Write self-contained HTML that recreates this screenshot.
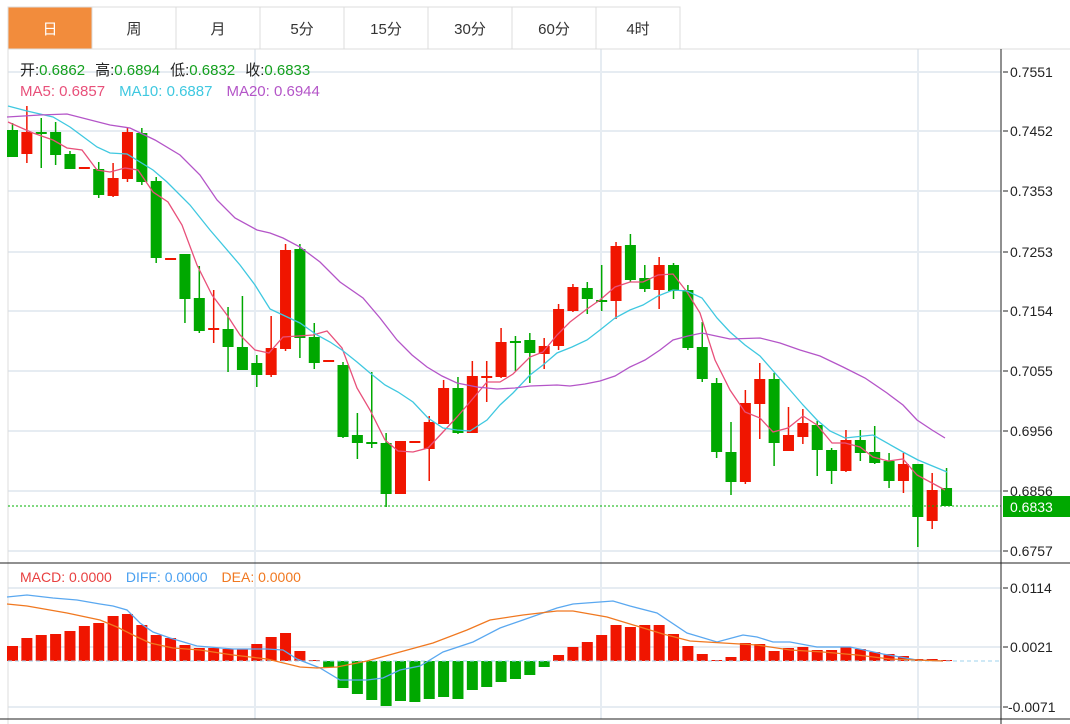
<!DOCTYPE html>
<html><head><meta charset="utf-8"><style>
body{margin:0;background:#fff;width:1070px;height:724px;overflow:hidden;font-family:"Liberation Sans","Noto Sans CJK SC",sans-serif}
svg{position:absolute;left:0;top:0}
</style></head><body>
<svg id="s" width="1070" height="724" xmlns="http://www.w3.org/2000/svg" font-family="Liberation Sans, Noto Sans CJK SC, sans-serif">
<g stroke="#e6ecf2" stroke-width="2">
<line x1="8" y1="72" x2="1001" y2="72"/><line x1="8" y1="131" x2="1001" y2="131"/><line x1="8" y1="191" x2="1001" y2="191"/><line x1="8" y1="252" x2="1001" y2="252"/><line x1="8" y1="311" x2="1001" y2="311"/><line x1="8" y1="371" x2="1001" y2="371"/><line x1="8" y1="431" x2="1001" y2="431"/><line x1="8" y1="491" x2="1001" y2="491"/><line x1="8" y1="551" x2="1001" y2="551"/>
<line x1="8" y1="588" x2="1001" y2="588"/><line x1="8" y1="647" x2="1001" y2="647"/><line x1="8" y1="707" x2="1001" y2="707"/>
<line x1="255" y1="49" x2="255" y2="719"/><line x1="601" y1="49" x2="601" y2="719"/><line x1="918" y1="49" x2="918" y2="719"/>
</g>
<line x1="8" y1="49" x2="1070" y2="49" stroke="#dcdcdc"/>
<line x1="8" y1="7" x2="8" y2="724" stroke="#dcdcdc"/>
<g id="tabs"></g>
<g id="cand"></g>
<g id="macd"></g>
<line x1="8" y1="661" x2="1001" y2="661" stroke="#9fd3ee" stroke-dasharray="4,3"/>
<g id="lines" fill="none" stroke-width="1.3"></g>
<line x1="8" y1="506" x2="1001" y2="506" stroke="#00b000" stroke-dasharray="2,2"/>
<line x1="1001" y1="49" x2="1001" y2="724" stroke="#222"/>
<line x1="0" y1="563" x2="1070" y2="563" stroke="#222"/>
<line x1="0" y1="719" x2="1070" y2="719" stroke="#222"/>
<g font-size="14" fill="#222" id="ax"></g>
<rect x="1003" y="496" width="67" height="21" fill="#00a800"/>
<text x="1010" y="512" fill="#fff" font-size="14">0.6833</text>
<text x="20" y="75" font-size="15"><tspan fill="#222">开:</tspan><tspan fill="#14a01e">0.6862</tspan><tspan fill="#222" dx="10">高:</tspan><tspan fill="#14a01e">0.6894</tspan><tspan fill="#222" dx="10">低:</tspan><tspan fill="#14a01e">0.6832</tspan><tspan fill="#222" dx="10">收:</tspan><tspan fill="#14a01e">0.6833</tspan></text>
<text x="20" y="96" font-size="15"><tspan fill="#e8507a">MA5: 0.6857</tspan><tspan fill="#3fc8e0" dx="14">MA10: 0.6887</tspan><tspan fill="#b455c8" dx="14">MA20: 0.6944</tspan></text>
<text x="20" y="582" font-size="14"><tspan fill="#e84040">MACD: 0.0000</tspan><tspan fill="#4aa0f0" dx="14">DIFF: 0.0000</tspan><tspan fill="#f07820" dx="14">DEA: 0.0000</tspan></text>
</svg>
<script>
const NS="http://www.w3.org/2000/svg";
function el(p,t,a,txt){const e=document.createElementNS(NS,t);for(const k in a)e.setAttribute(k,a[k]);if(txt)e.textContent=txt;document.getElementById(p).appendChild(e);return e;}
const tabs=["日","周","月","5分","15分","30分","60分","4时"];
tabs.forEach((t,i)=>{const x=8+i*84;
 el("tabs","rect",{x:x,y:7,width:84,height:42,fill:i==0?"#f28c3c":"#fff",stroke:"#dcdcdc"});
 el("tabs","text",{x:x+42,y:34,"text-anchor":"middle","font-size":"15",fill:i==0?"#fff":"#333"},t);});
const C=[["G",130,157,123,157],["R",132,154,106,163],["G",132,134,118,168],["G",132,155,122,165],["G",154,169,151,169],["R",167,169,167,169],["G",169,195,162,198],["R",178,196,163,197],["R",132,179,128,182],["G",133,182,128,185],["G",181,258,177,263],["R",258,260,258,260],["G",254,299,254,323],["G",298,331,266,333],["R",328,330,290,343],["G",329,347,307,372],["G",347,370,296,370],["G",363,375,355,387],["R",348,375,316,377],["R",250,349,244,351],["G",249,338,244,358],["G",337,363,323,369],["R",360,362,360,362],["G",365,437,362,438],["G",435,443,413,459],["G",442,444,372,448],["G",443,494,433,507],["R",441,494,441,494],["R",441,443,441,443],["R",422,449,416,481],["R",388,424,380,424],["G",388,433,377,434],["R",376,433,361,433],["R",376,378,361,402],["R",342,377,328,378],["G",341,343,336,371],["G",340,353,333,383],["R",346,354,338,369],["R",309,346,304,350],["R",287,311,284,312],["G",288,299,282,314],["G",300,302,265,311],["R",246,301,242,319],["G",245,280,234,282],["G",278,289,265,292],["R",265,290,257,309],["G",265,291,263,299],["G",290,348,285,350],["G",347,379,322,382],["G",383,452,378,458],["G",452,482,422,495],["R",403,482,390,484],["R",379,404,363,439],["G",379,443,373,466],["R",435,451,407,444],["R",423,437,409,444],["G",425,450,421,476],["G",450,471,448,484],["R",440,471,430,472],["G",440,453,430,461],["G",452,463,426,464],["G",461,481,453,488],["R",464,481,453,493],["G",464,517,464,547],["R",490,521,473,529],["G",488,506,468,506]];
const X=i=>12.5+i*14.37;
C.forEach((c,i)=>{const x=X(i),col=c[0]=="R"?"#f01500":"#00a800";
 el("cand","line",{x1:x,x2:x,y1:c[3],y2:c[4],stroke:col,"stroke-width":1.5});
 el("cand","rect",{x:x-5.5,y:c[1],width:11,height:Math.max(2,c[2]-c[1]),fill:col});});
const M=[646,638,635,634,631,626,623,616,614,625,635,638,645,648,648,649,649,644,637,633,651,660,667,688,694,700,706,701,702,699,697,699,690,687,682,679,675,667,655,647,642,635,625,627,625,625,634,646,654,660,657,643,644,651,648,647,650,650,647,649,652,654,656,659,659,660];
M.forEach((v,i)=>{const x=X(i);const top=Math.min(v,661),h=Math.max(1,Math.abs(v-661));
 el("macd","rect",{x:x-5.5,y:top,width:11,height:h,fill:v<661?"#f01500":"#00a800"});});
function pl(pts,col){el("lines","polyline",{points:pts.map(p=>p.join(",")).join(" "),stroke:col});}
pl([[8,122],[33,133],[53,140],[67,148],[82,150],[97,170],[110,172],[125,168],[138,170],[153,192],[168,202],[182,225],[197,265],[212,295],[227,315],[240,335],[255,350],[269,353],[283,337],[313,335],[327,331],[342,348],[357,388],[370,410],[385,440],[398,451],[413,452],[428,448],[443,432],[457,417],[470,402],[487,382],[500,382],[513,374],[530,357],[543,352],[557,335],[570,322],[587,309],[600,300],[615,287],[630,282],[643,282],[658,275],[673,274],[687,292],[700,313],[715,360],[730,390],[745,412],[760,418],[773,432],[788,428],[803,416],[817,425],[832,443],[845,443],[860,447],[873,457],[888,461],[903,459],[917,475],[932,483],[945,490]],"#e8507a");
pl([[8,106],[27,111],[53,117],[70,127],[97,147],[110,153],[127,154],[153,170],[167,182],[190,205],[210,230],[240,265],[255,285],[270,309],[300,323],[317,335],[330,342],[342,350],[357,362],[370,373],[385,385],[398,392],[413,402],[428,418],[443,428],[457,430],[470,431],[487,420],[500,405],[513,393],[530,375],[543,365],[557,353],[572,347],[587,340],[600,330],[615,318],[630,310],[643,305],[658,296],[673,290],[687,291],[702,298],[717,318],[730,332],[745,345],[760,356],[775,373],[790,390],[803,405],[817,420],[830,431],[845,438],[873,435],[903,452],[918,460],[947,472]],"#3fc8e0");
pl([[7,117],[40,115],[67,114],[110,125],[130,128],[155,140],[180,155],[200,175],[217,200],[235,218],[257,230],[270,233],[283,238],[300,247],[320,262],[340,282],[363,298],[380,318],[397,340],[412,355],[427,367],[442,376],[457,383],[477,387],[497,389],[515,388],[530,386],[557,385],[570,386],[585,384],[600,381],[615,376],[630,367],[645,360],[660,350],[673,340],[688,336],[702,333],[716,336],[730,339],[760,338],[780,343],[800,350],[820,356],[843,367],[865,378],[887,393],[903,405],[917,420],[932,430],[945,438]],"#b455c8");
pl([[7,597],[27,595],[53,598],[77,600],[100,604],[113,606],[127,610],[140,623],[153,632],[170,638],[197,646],[233,649],[267,649],[283,650],[297,659],[320,668],[340,680],[367,680],[383,678],[400,670],[420,666],[443,652],[473,642],[500,628],[523,620],[557,608],[573,604],[613,601],[630,606],[657,613],[687,633],[717,642],[743,635],[757,637],[773,642],[790,642],[817,647],[850,647],[883,654],[917,660],[943,661]],"#5aa8f0");
pl([[7,604],[27,606],[67,613],[100,620],[117,627],[133,635],[150,643],[173,648],[200,650],[233,655],[267,659],[300,667],[317,668],[337,667],[367,661],[400,652],[433,643],[467,630],[490,620],[523,615],[557,611],[573,611],[607,617],[640,627],[663,634],[690,641],[723,643],[757,645],[790,650],[823,652],[857,655],[890,659],[917,660],[943,661]],"#f07820");
[["0.7551",72],["0.7452",131],["0.7353",191],["0.7253",252],["0.7154",311],["0.7055",371],["0.6956",431],["0.6856",491],["0.6757",551],["0.0114",588],["0.0021",647],["-0.0071",707]].forEach(a=>{
 el("ax","line",{x1:1003,x2:1008,y1:a[1],y2:a[1],stroke:"#222"});
 el("ax","text",{x:a[0][0]=="-"?1008:1010,y:a[1]+5},a[0]);});
</script>
</body></html>
